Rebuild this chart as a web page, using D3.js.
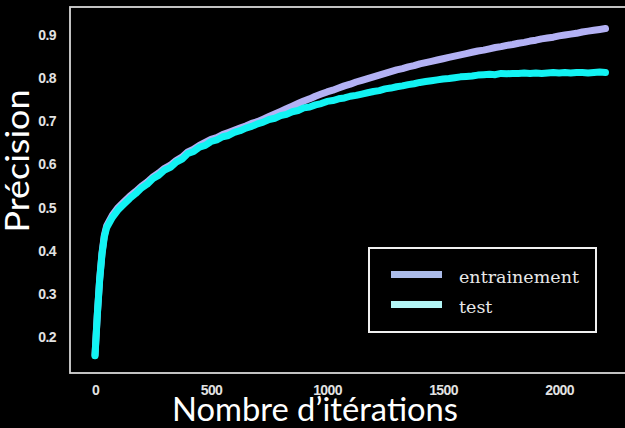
<!DOCTYPE html>
<html><head><meta charset="utf-8">
<script src="https://cdn.jsdelivr.net/npm/d3@7"></script>
<style>html,body{margin:0;padding:0;background:#000;overflow:hidden}</style>
</head><body>
<svg id="c" width="625" height="428"></svg>
<script>
const iterations = [0,10,20,30,40,50,75,100,125,150,175,200,225,250,275,300,325,350,375,400,425,450,475,500,525,550,575,600,625,650,675,700,725,750,775,800,825,850,875,900,925,950,975,1000,1025,1050,1075,1100,1125,1150,1175,1200,1225,1250,1275,1300,1325,1350,1375,1400,1425,1450,1475,1500,1525,1550,1575,1600,1625,1650,1675,1700,1725,1750,1775,1800,1825,1850,1875,1900,1925,1950,1975,2000,2025,2050,2075,2100,2125,2150,2175,2200];
const trainAcc = [0.157,0.252,0.333,0.393,0.434,0.456,0.481,0.499,0.512,0.525,0.536,0.548,0.558,0.57,0.579,0.59,0.597,0.608,0.616,0.628,0.634,0.643,0.65,0.657,0.661,0.668,0.673,0.678,0.683,0.688,0.694,0.698,0.704,0.71,0.716,0.722,0.728,0.734,0.74,0.746,0.751,0.757,0.762,0.767,0.771,0.776,0.781,0.785,0.79,0.794,0.798,0.802,0.806,0.81,0.814,0.818,0.821,0.825,0.828,0.832,0.835,0.838,0.841,0.844,0.847,0.85,0.853,0.856,0.859,0.862,0.864,0.867,0.87,0.872,0.875,0.877,0.88,0.882,0.885,0.887,0.89,0.892,0.894,0.897,0.899,0.901,0.903,0.906,0.908,0.91,0.912,0.914];
const testAcc = [0.155,0.25,0.33,0.39,0.43,0.452,0.476,0.494,0.507,0.52,0.531,0.544,0.553,0.566,0.574,0.586,0.592,0.604,0.611,0.624,0.629,0.639,0.643,0.652,0.656,0.663,0.666,0.673,0.677,0.683,0.687,0.693,0.697,0.703,0.706,0.712,0.715,0.721,0.724,0.73,0.732,0.737,0.74,0.745,0.747,0.751,0.753,0.757,0.759,0.762,0.765,0.768,0.77,0.774,0.776,0.779,0.781,0.784,0.786,0.789,0.791,0.793,0.795,0.797,0.798,0.8,0.802,0.803,0.804,0.806,0.807,0.808,0.807,0.81,0.809,0.81,0.81,0.811,0.81,0.811,0.81,0.811,0.812,0.811,0.812,0.811,0.812,0.812,0.811,0.812,0.813,0.812];
const xTicks = [0,500,1000,1500,2000];
const yTicks = [0.2,0.3,0.4,0.5,0.6,0.7,0.8,0.9];
const seriesNames = ["entrainement","test"];
const xLabel = "Nombre d’itérations";
const yLabel = "Précision";

const colors = {train:"#b3b1f4", test:"#12f3f3", trainLeg:"#abbbe9", testLeg:"#b2f5f5"};
const frame = {left:70, top:7, right:631, bottom:373};
const svg = d3.select("#c");
svg.append("rect").attr("width",625).attr("height",428).attr("fill","#000");

const x = d3.scaleLinear().domain([-107.8, 2310]).range([frame.left, frame.right]);
const y = d3.scaleLinear().domain([0.115, 0.964]).range([frame.bottom, frame.top]);

svg.append("clipPath").attr("id","pc").append("rect")
  .attr("x",frame.left).attr("y",frame.top).attr("width",frame.right-frame.left).attr("height",frame.bottom-frame.top);

const line = d3.line().x(d=>x(d[0])).y(d=>y(d[1]));
const g = svg.append("g").attr("clip-path","url(#pc)");
g.append("path").datum(iterations.map((it,i)=>[it,trainAcc[i]]))
  .attr("d",line).attr("fill","none").attr("stroke",colors.train).attr("stroke-width",7)
  .attr("stroke-linejoin","round").attr("stroke-linecap","round");
g.append("path").datum(iterations.map((it,i)=>[it,testAcc[i]]))
  .attr("d",line).attr("fill","none").attr("stroke",colors.test).attr("stroke-width",7)
  .attr("stroke-linejoin","round").attr("stroke-linecap","round");

// frame
svg.append("rect").attr("x",frame.left).attr("y",frame.top)
  .attr("width",frame.right-frame.left).attr("height",frame.bottom-frame.top)
  .attr("fill","none").attr("stroke","#d6d6d6").attr("stroke-width",1.8);

// axes
const tickFont = "'Liberation Sans', Arial, sans-serif";
const xAxis = d3.axisBottom(x).tickValues(xTicks).tickSize(0).tickPadding(0).tickFormat(d3.format("d"));
const xg = svg.append("g").attr("transform",`translate(0,${frame.bottom})`).call(xAxis);
xg.select(".domain").remove();
xg.selectAll("text").attr("dy",null).attr("y",22).attr("fill","#e2e2e2")
  .attr("font-family",tickFont).attr("font-weight","bold").attr("font-size",14).attr("letter-spacing","-0.6");

const yAxis = d3.axisLeft(y).tickValues(yTicks).tickSize(0).tickPadding(0).tickFormat(d3.format(".1f"));
const yg = svg.append("g").attr("transform",`translate(${frame.left},0)`).call(yAxis);
yg.select(".domain").remove();
yg.selectAll("text").attr("x",-14).attr("dy","0.36em").attr("fill","#e2e2e2")
  .attr("font-family",tickFont).attr("font-weight","bold").attr("font-size",14).attr("letter-spacing","-0.6");

// axis labels
const labFont = "Lato, 'Open Sans', sans-serif";
svg.append("text").attr("x",315).attr("y",421).attr("text-anchor","middle")
  .attr("fill","#fff").attr("font-family",labFont).attr("font-size",33)
  .attr("textLength",286).attr("lengthAdjust","spacingAndGlyphs").text(xLabel);
svg.append("text").attr("transform","translate(29,161) rotate(-90)").attr("text-anchor","middle")
  .attr("fill","#fff").attr("font-family",labFont).attr("font-size",33)
  .attr("textLength",143).attr("lengthAdjust","spacingAndGlyphs").text(yLabel);

// legend
const lg = svg.append("g");
lg.append("rect").attr("x",369).attr("y",248).attr("width",227).attr("height",84)
  .attr("fill","#000").attr("stroke","#f0f0f0").attr("stroke-width",2);
const legCols = [colors.trainLeg, colors.testLeg];
seriesNames.forEach((n,i)=>{
  const yy = 274.5 + i*30;
  lg.append("line").attr("x1",391).attr("x2",442).attr("y1",yy).attr("y2",yy)
    .attr("stroke",legCols[i]).attr("stroke-width",7);
  lg.append("text").attr("x",459).attr("y",yy+8).attr("fill","#e8e8e8")
    .attr("font-family","'DejaVu Serif', 'Liberation Serif', serif").attr("font-size",17.5).text(n);
});
</script>
</body></html>
